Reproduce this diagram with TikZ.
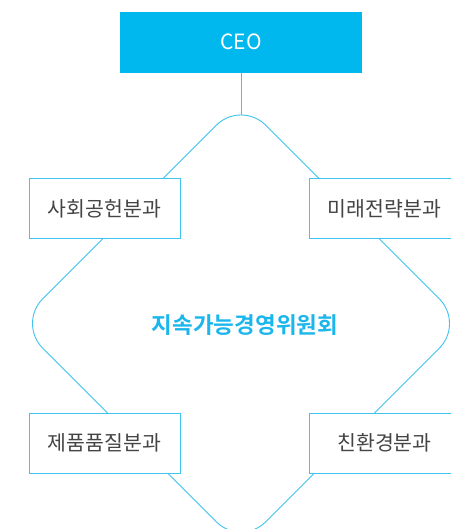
\documentclass[tikz,border=0pt]{standalone}
\usepackage{fontspec}
\setmainfont{Noto Sans CJK KR}[BoldFont={Noto Sans CJK KR Bold}]
\definecolor{ceoblue}{HTML}{00B7EE}
\definecolor{linecyan}{HTML}{3FC3EF}
\definecolor{titlecyan}{HTML}{1AB6EC}
\definecolor{boxtext}{HTML}{444444}
\begin{document}
\begin{tikzpicture}[x=1pt,y=-1pt,
  line/.style={draw=linecyan,line width=0.9pt},
  ceobox/.style={fill=ceoblue,minimum width=242pt,minimum height=60.5pt,inner sep=0pt,text=white,font=\fontsize{21}{24}\selectfont},
  subbox/.style={draw=linecyan,line width=0.9pt,fill=white,minimum width=151pt,minimum height=60pt,inner sep=0pt,text=boxtext,font=\fontsize{20.5}{24}\selectfont},
  titletext/.style={text=titlecyan,font=\bfseries\fontsize{22.5}{26}\selectfont}]
\useasboundingbox (0,0) rectangle (451,529);
\clip (0,0) rectangle (451,529);
\fill[white] (0,0) rectangle (451,529);
% rounded diamond
\draw[line,rounded corners=35pt] (129.5,435) -- (18,323.5) -- (241,100.5) -- (464,323.5) -- (241,546.5) -- (129.5,435);
\coordinate (dtop) at (241,115);
\node[ceobox] (ceo) at (241,42.3) {CEO};
\draw[line] (ceo.south) -- (dtop);
\node[subbox] (b1) at (104.5,208.7) {사회공헌분과};
\node[subbox] (b2) at (384.5,208.7) {미래전략분과};
\node[subbox] (b3) at (104.5,443) {제품품질분과};
\node[subbox] (b4) at (384.5,443) {친환경분과};
\node[titletext] (t) at (245,325) {지속가능경영위원회};
\end{tikzpicture}
\end{document}
